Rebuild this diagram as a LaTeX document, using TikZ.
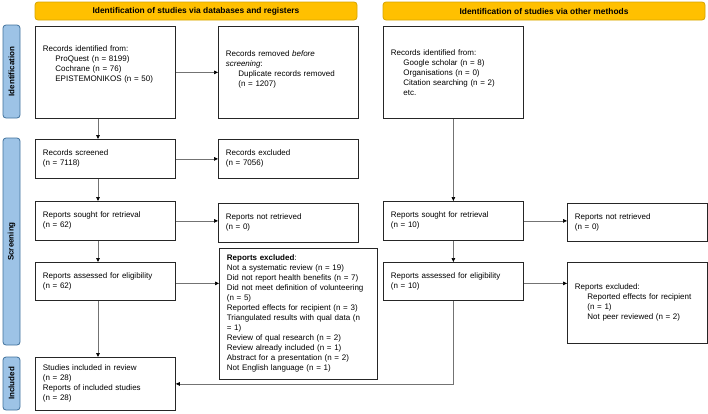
\documentclass[tikz,border=0pt]{standalone}
\usepackage{fontspec}
\setmainfont{Liberation Sans}
\usetikzlibrary{arrows.meta}
\definecolor{hdrfill}{RGB}{255,192,0}
\definecolor{hdrline}{RGB}{214,164,0}
\definecolor{sidefill}{RGB}{157,195,230}
\definecolor{sideline}{RGB}{65,113,156}
\newcommand{\ind}{\hspace*{12.5pt}}

\begin{document}
\begin{tikzpicture}[x=1pt,y=-1pt,
  box/.style={draw=black!85,line width=0.8pt,anchor=north west,align=left,inner xsep=7.5pt,inner ysep=0pt,text width=125pt,font=\fontsize{8}{10}\selectfont},
  hdr/.style={draw=hdrline,fill=hdrfill,rounded corners=3pt,line width=0.8pt,inner sep=0pt,minimum width=322pt,minimum height=18pt,font=\fontsize{8.4}{10}\selectfont\bfseries},
  side/.style={draw=sideline,fill=sidefill,rounded corners=3pt,line width=0.8pt,inner sep=0pt,rotate=90,minimum height=17pt,font=\fontsize{8}{10}\selectfont\bfseries},
  arr/.style={draw=black!55,line width=0.7pt,-{Triangle[length=4pt,width=3.6pt,color=black]}}]
\useasboundingbox (0,0) rectangle (708,413);

\node[hdr] (hdrL) at (196,11) {Identification of studies via databases and registers};
\node[hdr] (hdrR) at (544,11) {Identification of studies via other methods};

\node[side,minimum width=93pt] (sideI) at (11.5,71.5) {Identification};
\node[side,minimum width=207pt] (sideS) at (11.5,241.5) {Screening};
\node[side,minimum width=53pt] (sideN) at (11.5,383.5) {Included};

\node[box,minimum height=92pt] (ident) at (35,26) {Records identified from:\\
\ind ProQuest (n = 8199)\\
\ind Cochrane (n = 76)\\
\ind EPISTEMONIKOS (n = 50)\\[8pt]\mbox{}};
\node[box,minimum height=92pt] (removed) at (218,26) {Records removed \textit{before}\\
\textit{screening}:\\
\ind Duplicate records removed\\
\ind (n = 1207)\\[-2pt]\mbox{}};
\node[box,minimum height=92pt] (identR) at (383,26) {Records identified from:\\
\ind Google scholar (n = 8)\\
\ind Organisations (n = 0)\\
\ind Citation searching (n = 2)\\
\ind etc.};

\node[box,minimum height=39pt] (screened) at (35,139) {Records screened\\(n = 7118)};
\node[box,minimum height=39pt] (excluded) at (218,139) {Records excluded\\(n = 7056)};

\node[box,minimum height=39pt] (sought) at (35,201) {Reports sought for retrieval\\(n = 62)};
\node[box,minimum height=39pt] (notret) at (218,203) {Reports not retrieved\\(n = 0)};
\node[box,minimum height=39pt] (soughtR) at (383,201) {Reports sought for retrieval\\(n = 10)};
\node[box,minimum height=38pt] (notretR) at (567,203) {Reports not retrieved\\(n = 0)};

\node[box,minimum height=38pt] (assessed) at (35,262) {Reports assessed for eligibility\\(n = 62)};
\node[box,minimum height=131pt,text width=143pt] (exclL) at (219,248) {\textbf{Reports excluded}:\\
Not a systematic review (n = 19)\\
Did not report health benefits (n = 7)\\
Did not meet definition of volunteering\\
(n = 5)\\
Reported effects for recipient (n = 3)\\
Triangulated results with qual data (n\\
= 1)\\
Review of qual research (n = 2)\\
Review already included (n = 1)\\
Abstract for a presentation (n = 2)\\
Not English language (n = 1)};
\node[box,minimum height=38pt] (assessedR) at (383,262) {Reports assessed for eligibility\\(n = 10)};
\node[box,minimum height=81pt] (exclR) at (567,262) {Reports excluded:\\
\ind Reported effects for recipient\\
\ind (n = 1)\\
\ind Not peer reviewed (n = 2)};

\node[box,minimum height=53pt] (studies) at (35,357) {Studies included in review\\(n = 28)\\Reports of included studies\\(n = 28)};

\coordinate (colL) at (98,0);
\draw[arr] (ident) -- (removed);
\draw[arr] (ident.south -| colL) -- (screened.north -| colL);
\draw[arr] (screened) -- (excluded);
\draw[arr] (screened.south -| colL) -- (sought.north -| colL);
\draw[arr] (sought.east) -- (sought.east -| notret.west);
\draw[arr] (sought.south -| colL) -- (assessed.north -| colL);
\draw[arr] ([yshift=-2pt]assessed.east) -- ([yshift=-2pt]assessed.east -| exclL.west);
\draw[arr] (assessed.south -| colL) -- (studies.north -| colL);
\draw[arr] (identR) -- (soughtR);
\draw[arr] (soughtR.east) -- (soughtR.east -| notretR.west);
\draw[arr] (soughtR) -- (assessedR);
\draw[arr] ([yshift=-2pt]assessedR.east) -- ([yshift=-2pt]assessedR.east -| exclR.west);
\draw[arr] (assessedR.south) |- (studies.east);
\end{tikzpicture}
\end{document}
